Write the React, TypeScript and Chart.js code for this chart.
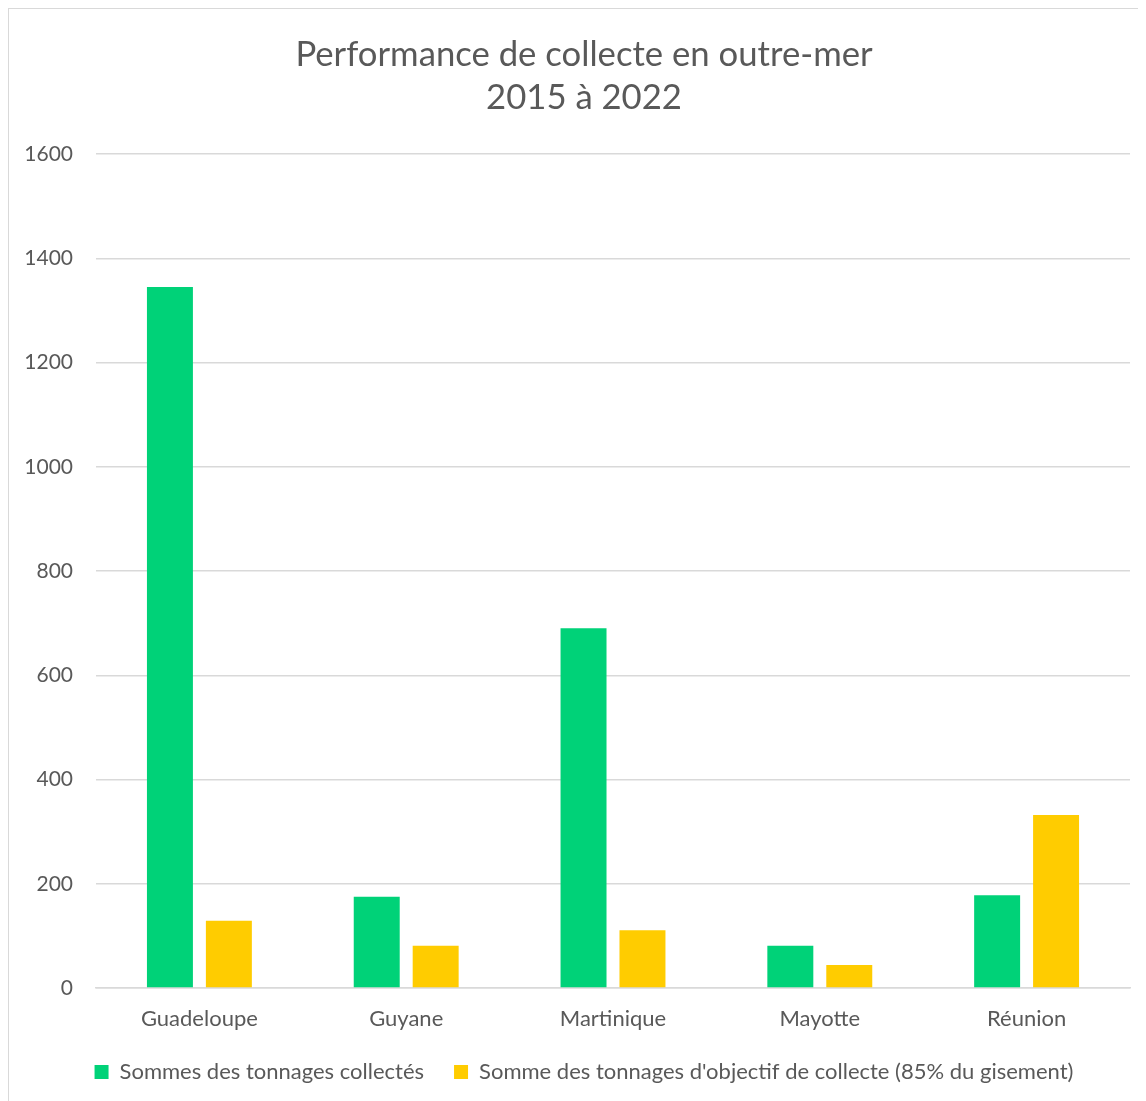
import React, { useEffect, useRef } from "react";
import { Chart, registerables } from "chart.js";

Chart.register(...registerables);

const categories = ["Guadeloupe", "Guyane", "Martinique", "Mayotte", "Réunion"];
const collectes = [1345, 175, 690, 81, 178];
const objectifs = [129, 81, 111, 44, 332];
const seriesNames = [
  "Sommes des tonnages collectés",
  "Somme des tonnages d'objectif de collecte (85% du gisement)",
];
const titleLines = ["Performance de collecte en outre-mer", "2015 à 2022"];

export default function App() {
  const ref = useRef<HTMLCanvasElement | null>(null);
  useEffect(() => {
    document.body.style.overflow = "hidden";
    const ctx = ref.current!;
    const chart = new Chart(ctx, {
      type: "bar",
      data: {
        labels: categories,
        datasets: [
          {
            label: seriesNames[0],
            data: collectes,
            backgroundColor: "#00D278",
            barPercentage: 0.78,
            categoryPercentage: 0.57,
          },
          {
            label: seriesNames[1],
            data: objectifs,
            backgroundColor: "#FFCC00",
            barPercentage: 0.78,
            categoryPercentage: 0.57,
          },
        ],
      },
      options: {
        animation: false,
        responsive: false,
        maintainAspectRatio: false,
        layout: { autoPadding: false, padding: { left: 16, right: 16, top: 24, bottom: 8 } },
        plugins: {
          title: {
            display: true,
            text: titleLines,
            color: "#595959",
            font: { family: "Lato", size: 34.7, weight: "normal", lineHeight: 1.24 },
            padding: { top: 0, bottom: 35 },
          },
          legend: {
            position: "bottom",
            labels: {
              color: "#595959",
              font: { family: "Lato", size: 22 },
              boxWidth: 14,
              boxHeight: 14,
              padding: 30,
            },
          },
          tooltip: { enabled: false },
        },
        scales: {
          x: {
            grid: { display: false },
            border: { color: "#d9d9d9", width: 1.5 },
            ticks: {
              color: "#595959",
              font: { family: "Lato", size: 22 },
              padding: 10,
            },
            afterFit: (scale: any) => {
              scale.height = 43;
            },
          },
          y: {
            min: 0,
            max: 1600,
            ticks: {
              stepSize: 200,
              color: "#595959",
              font: { family: "Lato", size: 21 },
              padding: 23,
              callback: (v: any) => String(v),
            },
            grid: { color: "#d9d9d9", lineWidth: 1.5, drawTicks: false },
            border: { display: false },
            afterFit: (scale: any) => {
              scale.width = 71;
            },
          },
          yRight: {
            type: "linear",
            position: "right",
            display: true,
            grid: { display: false, drawTicks: false },
            border: { display: false },
            ticks: { display: false },
            afterFit: (scale: any) => {
              scale.width = 13;
            },
          },
        },
      },
    });
    return () => chart.destroy();
  }, []);
  return (
    <div
      style={{
        width: 1138,
        height: 1093,
        borderLeft: "1px solid #d9d9d9",
        borderTop: "1px solid #d9d9d9",
        boxSizing: "border-box",
        background: "#fff",
        overflow: "hidden",
      }}
    >
      <canvas ref={ref} width={1150} height={1092} style={{ display: "block" }} />
    </div>
  );
}
